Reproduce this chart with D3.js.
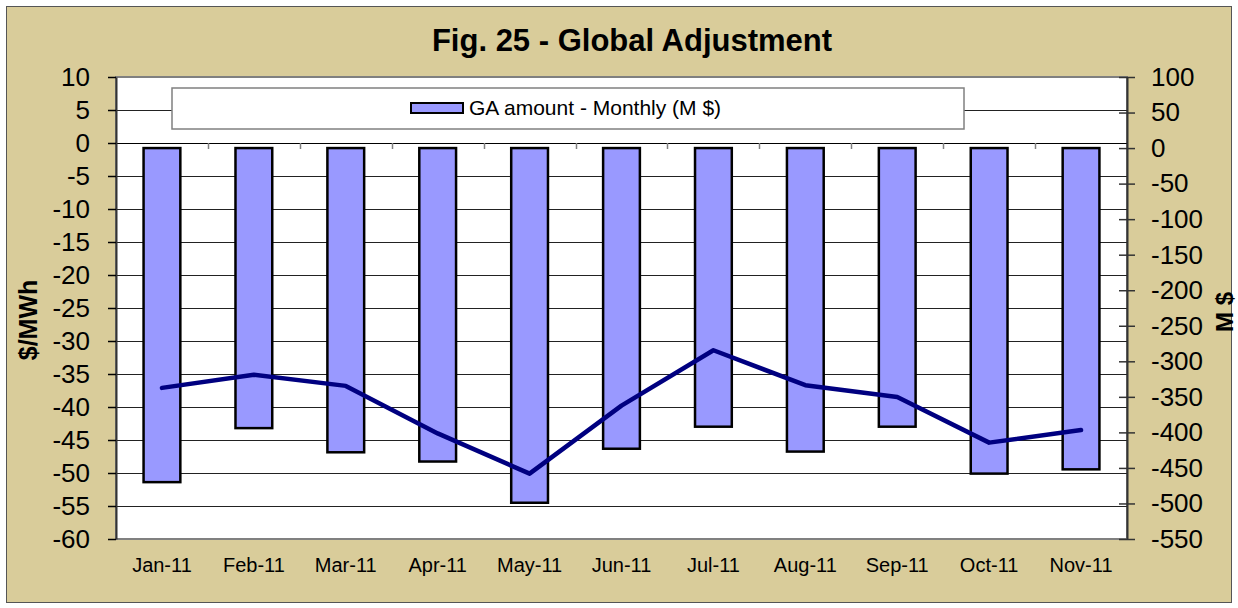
<!DOCTYPE html>
<html>
<head>
<meta charset="utf-8">
<script src="https://cdn.jsdelivr.net/npm/d3@7"></script>
<style>
    body { margin: 0; background: #fff; }
    svg text { font-family: "Liberation Sans", Arial, sans-serif; fill: #000; }
</style>
</head>
<body>
<div id="chart"></div>
<script>
// Chart data
const months = ['Jan-11', 'Feb-11', 'Mar-11', 'Apr-11', 'May-11', 'Jun-11',
                'Jul-11', 'Aug-11', 'Sep-11', 'Oct-11', 'Nov-11'];
// GA amount - Monthly (M $), right axis
const gaMonthly = [-470, -394, -428, -441, -499, -423, -392, -427, -392, -458, -452];
// GA rate ($/MWh), left axis
const gaRate = [-37.1, -35.1, -36.8, -44.0, -50.1, -39.8, -31.4, -36.7, -38.5, -45.4, -43.5];
const leftTicks = d3.range(-60, 11, 5);
const rightTicks = d3.range(-550, 101, 50);

const W = 1238, H = 608;
const plot = { left: 116, right: 1127, top: 77, bottom: 539 };
const plain = d => String(d); // keep hyphen-minus like the original

const svg = d3.select('#chart')
    .append('svg')
    .attr('width', W)
    .attr('height', H);

// Outer chart area
svg.append('rect')
    .attr('x', 6.5).attr('y', 6.5)
    .attr('width', 1225).attr('height', 596)
    .attr('fill', '#D9CC9A')
    .attr('stroke', '#555')
    .attr('stroke-width', 1);

// Scales
const x = d3.scaleBand()
    .domain(months)
    .range([plot.left, plot.right]);

const yL = d3.scaleLinear()
    .domain([-60, 10])
    .range([plot.bottom, plot.top]);

const yR = d3.scaleLinear()
    .domain([-550, 100])
    .range([plot.bottom, plot.top]);

// Plot area
svg.append('rect')
    .attr('x', plot.left).attr('y', plot.top)
    .attr('width', plot.right - plot.left)
    .attr('height', plot.bottom - plot.top)
    .attr('fill', '#fff')
    .attr('stroke', '#808080')
    .attr('stroke-width', 2);

// Gridlines
svg.append('g')
    .selectAll('line')
    .data(leftTicks.filter(d => d > -60 && d < 10))
    .join('line')
    .attr('x1', plot.left)
    .attr('x2', plot.right)
    .attr('y1', d => Math.round(yL(d)) + 0.5)
    .attr('y2', d => Math.round(yL(d)) + 0.5)
    .attr('stroke', d => d === 0 ? '#000' : '#222')
    .attr('stroke-width', 1);

// Category ticks on the zero line
svg.append('g')
    .selectAll('line')
    .data(months.slice(1))
    .join('line')
    .attr('x1', d => Math.round(x(d)) + 0.5)
    .attr('x2', d => Math.round(x(d)) + 0.5)
    .attr('y1', yL(0))
    .attr('y2', yL(0) + 6)
    .attr('stroke', '#808080')
    .attr('stroke-width', 1.5);

// Legend
const legend = svg.append('g');
legend.append('rect')
    .attr('x', 172).attr('y', 88)
    .attr('width', 792).attr('height', 41)
    .attr('fill', '#fff')
    .attr('stroke', '#808080')
    .attr('stroke-width', 1.5);
legend.append('rect')
    .attr('x', 411).attr('y', 103)
    .attr('width', 52).attr('height', 10)
    .attr('fill', '#9999FF')
    .attr('stroke', '#000')
    .attr('stroke-width', 2);
legend.append('text')
    .attr('x', 469).attr('y', 108)
    .attr('dy', '0.35em')
    .style('font-size', '21px')
    .text('GA amount - Monthly (M $)');

// Bars (right axis)
const bw = x.bandwidth() * 0.4;
svg.append('g')
    .selectAll('rect')
    .data(months)
    .join('rect')
    .attr('x', d => x(d) + (x.bandwidth() - bw) / 2)
    .attr('y', yR(0))
    .attr('width', bw)
    .attr('height', (d, i) => yR(gaMonthly[i]) - yR(0))
    .attr('fill', '#9999FF')
    .attr('stroke', '#000')
    .attr('stroke-width', 2.5);

// Line (left axis)
const line = d3.line()
    .x((d, i) => x(months[i]) + x.bandwidth() / 2)
    .y(d => yL(d));

svg.append('path')
    .datum(gaRate)
    .attr('d', line)
    .attr('fill', 'none')
    .attr('stroke', '#000080')
    .attr('stroke-width', 4.5)
    .attr('stroke-linejoin', 'round')
    .attr('stroke-linecap', 'round');

// Left axis
const leftAxis = svg.append('g')
    .attr('transform', `translate(${plot.left},0)`)
    .call(d3.axisLeft(yL).tickValues(leftTicks).tickFormat(plain)
        .tickSize(8).tickPadding(18).tickSizeOuter(0));
leftAxis.select('.domain').attr('stroke', '#333').attr('stroke-width', 2);
leftAxis.selectAll('.tick line').attr('stroke', '#000').attr('stroke-width', 1.5);
leftAxis.selectAll('.tick text')
    .style('font-size', '26px')
    .style('font-family', '"Liberation Sans", Arial, sans-serif');

// Right axis (ticks cross the axis line)
const rightAxis = svg.append('g')
    .attr('transform', `translate(${plot.right},0)`)
    .call(d3.axisRight(yR).tickValues(rightTicks).tickFormat(plain)
        .tickSize(8).tickPadding(16).tickSizeOuter(0));
rightAxis.select('.domain').attr('stroke', '#333').attr('stroke-width', 2);
rightAxis.selectAll('.tick line')
    .attr('x1', -8)
    .attr('stroke', '#333')
    .attr('stroke-width', 1.5);
rightAxis.selectAll('.tick text')
    .style('font-size', '26px')
    .style('font-family', '"Liberation Sans", Arial, sans-serif');

// Category labels
const xAxis = svg.append('g')
    .attr('transform', `translate(0,${plot.bottom})`)
    .call(d3.axisBottom(x).tickSize(0).tickPadding(19));
xAxis.select('.domain').remove();
xAxis.selectAll('.tick text')
    .style('font-size', '20px')
    .style('font-family', '"Liberation Sans", Arial, sans-serif');

// Title
svg.append('text')
    .attr('x', 632).attr('y', 51)
    .attr('text-anchor', 'middle')
    .style('font-size', '31px')
    .style('font-weight', 'bold')
    .text('Fig. 25 - Global Adjustment');

// Axis titles
svg.append('text')
    .attr('transform', 'translate(37,320) rotate(-90)')
    .attr('text-anchor', 'middle')
    .style('font-size', '25px')
    .style('font-weight', 'bold')
    .text('$/MWh');

svg.append('text')
    .attr('transform', 'translate(1233,312) rotate(-90)')
    .attr('text-anchor', 'middle')
    .style('font-size', '24px')
    .style('font-weight', 'bold')
    .text('M $');
</script>
</body>
</html>
